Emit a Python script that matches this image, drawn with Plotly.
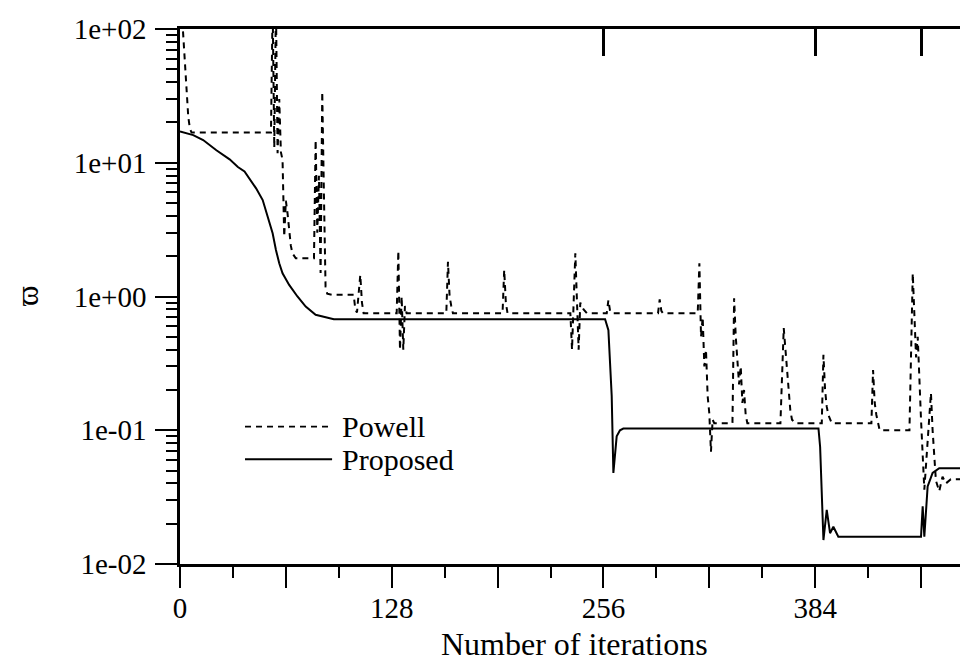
import plotly.graph_objects as go

# ---------------- data ----------------
powell_iter = [1, 2, 3, 4, 5, 6, 7, 55, 56, 57, 58, 59, 60, 61, 62, 63, 64, 65, 66, 67, 68, 70,
               81, 82, 83, 84, 85, 86, 87, 88, 89, 92, 105, 106, 107, 109, 110, 111,
               131, 132, 133, 134, 135, 136, 137, 161, 162, 163, 164, 165,
               195, 196, 197, 198, 236, 237, 239, 240, 241, 242, 244, 246,
               258, 259, 260, 261, 289, 290, 291, 292,
               313, 314, 315, 316, 317, 318, 319, 320, 321, 322, 323,
               334, 335, 336, 337, 338, 339, 340, 341, 342, 343,
               363, 365, 366, 367, 368, 369, 370, 372,
               388, 389, 390, 391, 392, 394, 418, 419, 420, 421, 423,
               441, 443, 444, 445, 446, 447, 448, 450, 452, 454, 455, 456, 457, 459, 461, 463, 466, 477]
powell_val = [140, 85, 50, 32, 22, 18, 16.8, 16.8, 150, 13, 150, 11.8, 30, 12, 10.5, 2.8, 5.2, 4.2, 3.0, 2.4, 2.1, 1.93,
              1.93, 14.8, 3.0, 8.0, 1.5, 34, 6.0, 1.18, 1.05, 1.03, 1.03, 0.8, 0.76, 1.45, 0.9, 0.75,
              0.75, 2.2, 0.4, 1.0, 0.4, 0.85, 0.75, 0.75, 1.82, 1.0, 0.85, 0.75,
              0.75, 1.58, 0.9, 0.75, 0.75, 0.4, 2.1, 0.8, 0.4, 0.9, 0.8, 0.75,
              0.75, 0.94, 0.78, 0.75, 0.75, 0.95, 0.78, 0.75,
              0.75, 1.77, 0.5, 0.7, 0.3, 0.4, 0.18, 0.134, 0.069, 0.12, 0.113,
              0.113, 0.97, 0.5, 0.3, 0.22, 0.3, 0.16, 0.2, 0.13, 0.113,
              0.113, 0.58, 0.4, 0.25, 0.18, 0.14, 0.12, 0.113,
              0.113, 0.366, 0.2, 0.15, 0.13, 0.113, 0.113, 0.282, 0.16, 0.13, 0.1,
              0.1, 1.49, 0.6, 0.35, 0.5, 0.2, 0.12, 0.036, 0.08, 0.19, 0.1, 0.06, 0.042, 0.035, 0.045, 0.04, 0.043, 0.043]

proposed_iter = [0, 8, 14, 22, 30, 35, 39, 42, 46, 50, 53, 56, 58, 60, 62, 66, 71, 76, 82, 90, 93,
                 257, 259, 261, 262, 264, 266, 268, 386, 387, 389, 391, 393, 395, 398,
                 448, 449, 450, 452, 455, 459, 477]
proposed_val = [17.1, 16.1, 14.8, 12.4, 10.6, 9.3, 8.6, 7.65, 6.44, 5.26, 3.95, 2.97, 2.23, 1.77, 1.49, 1.22, 1.0, 0.84, 0.73, 0.69, 0.675,
                0.675, 0.56, 0.18, 0.048, 0.09, 0.1, 0.103, 0.103, 0.075, 0.0151, 0.0254, 0.017, 0.019, 0.016,
                0.016, 0.027, 0.016, 0.038, 0.048, 0.052, 0.052]

x_major = [0, 64, 128, 192, 256, 320, 384, 448]
x_major_text = ["0", "", "128", "", "256", "", "384", ""]
x_minor = [32, 96, 160, 224, 288, 352, 416, 480]
x_top_ticks = [256, 384, 448]
y_major = [0.01, 0.1, 1, 10, 100]
y_major_text = ["1e-02", "1e-01", "1e+00", "1e+01", "1e+02"]
y_minor = [m * d for d in (0.01, 0.1, 1, 10) for m in range(2, 10)]

legend_names = ["Powell", "Proposed"]
legend_dash = ["6px,5px", "solid"]

FONT = "Liberation Serif, Times New Roman, serif"
X_RANGE = [0, 476.4]

fig = go.Figure()
fig.add_trace(go.Scatter(x=powell_iter, y=powell_val, mode="lines", name="Powell",
                         line=dict(color="black", width=2, dash="6px,5px")))
fig.add_trace(go.Scatter(x=proposed_iter, y=proposed_val, mode="lines", name="Proposed",
                         line=dict(color="black", width=2)))
fig.add_trace(go.Scatter(x=[], y=[], xaxis="x2", showlegend=False, hoverinfo="skip"))

fig.update_layout(
    width=960, height=654,
    margin=dict(l=172, r=0, t=21, b=98),
    paper_bgcolor="white", plot_bgcolor="white",
    showlegend=False,
    font=dict(family=FONT, size=29, color="black"),
    xaxis=dict(range=X_RANGE, tickmode="array", tickvals=x_major, ticktext=x_major_text,
               ticks="outside", ticklen=21, tickwidth=2, tickcolor="black",
               showline=True, linewidth=2.5, linecolor="black",
               showgrid=False, zeroline=False, ticklabelstandoff=-5,
               tickfont=dict(family=FONT, size=29),
               minor=dict(tickmode="array", tickvals=x_minor, ticks="outside", ticklen=11,
                          tickwidth=2, tickcolor="black", showgrid=False)),
    xaxis2=dict(range=X_RANGE, overlaying="x", side="top", anchor="y",
                tickmode="array", tickvals=x_top_ticks, ticks="inside", ticklen=27, tickwidth=2.5,
                tickcolor="black", showticklabels=False, showline=True, linewidth=3,
                linecolor="black", showgrid=False, zeroline=False),
    yaxis=dict(type="log", range=[-2, 2], tickmode="array", tickvals=y_major, ticktext=y_major_text,
               ticks="outside", ticklen=22, tickwidth=2, tickcolor="black",
               showline=True, linewidth=2.5, linecolor="black",
               showgrid=False, zeroline=False, ticklabelstandoff=3,
               tickfont=dict(family=FONT, size=29),
               minor=dict(tickmode="array", tickvals=y_minor, ticks="outside", ticklen=11,
                          tickwidth=1.5, tickcolor="black", showgrid=False)),
)

# axis titles
fig.add_annotation(text="Number of iterations", xref="paper", yref="paper", x=0.5, y=-0.1486,
                   xanchor="center", yanchor="middle", showarrow=False,
                   font=dict(family=FONT, size=32))
fig.add_annotation(text="ϖ", xref="paper", yref="paper", x=-0.1935, y=0.5,
                   xanchor="center", yanchor="middle",
                   textangle=-90, showarrow=False, font=dict(family=FONT, size=31))

# legend drawn inside the plot
leg_y = [0.2566, 0.196]
for name, dash, yy in zip(legend_names, legend_dash, leg_y):
    fig.add_shape(type="line", xref="paper", yref="paper", x0=0.0825, x1=0.193, y0=yy, y1=yy,
                  line=dict(color="black", width=1.8 if dash != "solid" else 2, dash=dash))
    fig.add_annotation(text=name, xref="paper", yref="paper", x=0.203, y=yy, xanchor="left",
                       yanchor="middle", showarrow=False, font=dict(family=FONT, size=30))

fig.write_html("out.html")
